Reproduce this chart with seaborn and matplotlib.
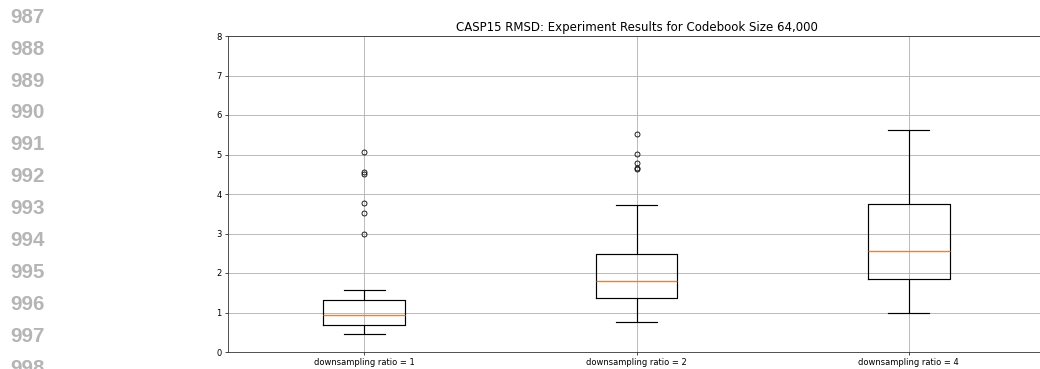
import matplotlib
matplotlib.use("Agg")
import matplotlib.pyplot as plt
import pandas as pd
import seaborn as sns

# RMSD values per downsampling ratio (CASP15 targets)
ratio_1 = [0.46, 0.52, 0.57, 0.60, 0.63, 0.65, 0.67, 0.68, 0.72, 0.76,
           0.80, 0.84, 0.87, 0.90, 0.93, 0.98, 1.04, 1.10, 1.16, 1.22,
           1.28, 1.32, 1.56, 3.00, 3.51, 3.78, 4.51, 4.56, 5.07]
ratio_2 = [0.75, 0.92, 1.05, 1.14, 1.22, 1.28, 1.33, 1.36, 1.42, 1.49,
           1.56, 1.63, 1.70, 1.76, 1.81, 1.90, 2.00, 2.10, 2.20, 2.30,
           2.40, 2.47, 2.85, 3.72, 4.64, 4.67, 4.79, 5.02, 5.53]
ratio_4 = [0.99, 1.20, 1.38, 1.52, 1.64, 1.74, 1.81, 1.86, 1.95, 2.05,
           2.15, 2.26, 2.37, 2.46, 2.55, 2.72, 2.90, 3.08, 3.27, 3.45,
           3.62, 3.75, 3.98, 4.20, 4.45, 4.70, 4.95, 5.30, 5.62]

categories = ["downsampling ratio = 1", "downsampling ratio = 2", "downsampling ratio = 4"]
series = [ratio_1, ratio_2, ratio_4]
y_ticks = [0, 1, 2, 3, 4, 5, 6, 7, 8]
title = "CASP15 RMSD: Experiment Results for Codebook Size 64,000"
line_numbers = list(range(987, 999))

df = pd.DataFrame({
    "ratio": [c for c, vals in zip(categories, series) for _ in vals],
    "rmsd": [v for vals in series for v in vals],
})

W, H = 1040, 369
fig = plt.figure(figsize=(W / 100, H / 100), dpi=100)
fig.patch.set_facecolor("white")

# axes extends slightly past the right edge of the page
left, right, top, bottom = 228, 1045, 36, 352
ax = fig.add_axes([left / W, 1 - bottom / H, (right - left) / W, (bottom - top) / H])

sns.boxplot(
    data=df, x="ratio", y="rmsd", order=categories, ax=ax,
    width=0.3, fill=False, color="black", linewidth=0.85, fliersize=3.6,
    medianprops=dict(color="#ff7f0e", linewidth=1.0, alpha=1.0),
    flierprops=dict(marker="o", markerfacecolor="none",
                    markeredgecolor="black", markeredgewidth=0.6),
)

ax.set_ylim(0, 8)
ax.set_yticks(y_ticks)
ax.set_xlabel("")
ax.set_ylabel("")
ax.grid(True, color="#b0b0b0", linewidth=0.6)
ax.set_axisbelow(True)
ax.tick_params(labelsize=6, length=2.5, width=0.5, pad=2)
for s in ax.spines.values():
    s.set_linewidth(0.6)
    s.set_color("#333333")
ax.set_title(title, fontsize=8.45, pad=3.5)

# manuscript line numbers in the margin
for i, n in enumerate(line_numbers):
    fig.text(10 / W, 1 - (17.3 + i * 31.9) / H, str(n), ha="left", va="center",
             fontsize=14.8, color="#b5b5b5", family="Liberation Sans",
             weight="bold")

fig.savefig("out.png", dpi=100)
